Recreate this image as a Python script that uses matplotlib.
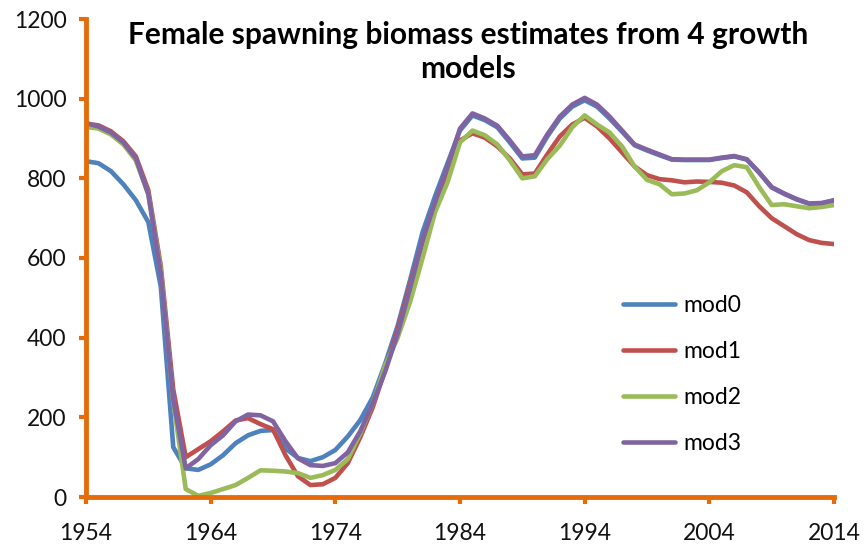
import matplotlib
matplotlib.use("Agg")
import matplotlib.pyplot as plt
import numpy as np

# Años del modelo
years = list(range(1954, 2015))

mod0 = [843, 838, 818, 785, 745, 690, 528, 125, 72, 68,
        82, 105, 135, 155, 166, 168, 122, 98, 90, 100,
        118, 152, 193, 250, 335, 430, 545, 665, 755, 838,
        920, 958, 946, 928, 890, 850, 852, 905, 950, 980,
        996, 980, 950, 917, 883, 870, 858, 847, 846, 846,
        846, 851, 855, 847, 814, 777, 761, 747, 736, 737,
        744]
mod1 = [937, 933, 918, 893, 855, 770, 580, 270, 100, 120,
        140, 165, 192, 198, 183, 170, 105, 52, 30, 32,
        48, 85, 150, 225, 320, 420, 535, 640, 735, 815,
        895, 913, 902, 880, 850, 810, 812, 860, 905, 935,
        952, 930, 900, 865, 830, 808, 798, 795, 790, 792,
        791, 789, 782, 765, 730, 700, 680, 660, 645, 638,
        635]
mod2 = [929, 925, 910, 885, 845, 760, 570, 240, 20, 3,
        10, 20, 30, 48, 67, 66, 64, 60, 48, 55,
        68, 95, 160, 235, 330, 400, 490, 600, 715, 790,
        890, 920, 908, 885, 845, 800, 805, 848, 882, 928,
        958, 935, 915, 880, 830, 796, 785, 760, 762, 770,
        790, 818, 833, 828, 778, 733, 735, 730, 725, 728,
        733]
mod3 = [939, 930, 915, 890, 850, 760, 560, 245, 72, 95,
        130, 155, 190, 207, 205, 190, 140, 97, 80, 78,
        85, 112, 165, 235, 315, 410, 525, 645, 740, 830,
        925, 963, 950, 932, 895, 855, 858, 910, 955, 985,
        1002, 985, 955, 920, 885, 872, 860, 848, 847, 847,
        847, 852, 856, 848, 815, 778, 762, 748, 737, 738,
        745]

series = [("mod0", mod0, "#4F81BD"),
          ("mod1", mod1, "#C0504D"),
          ("mod2", mod2, "#9BBB59"),
          ("mod3", mod3, "#8064A2")]

axis_color = "#E46C0A"
plt.rcParams["font.family"] = ["Lato", "DejaVu Sans"]

fig = plt.figure(figsize=(8.64, 5.5), dpi=100)
ax = fig.add_axes([86 / 864, 1 - 497 / 550, (834 - 86) / 864, (497 - 19) / 550])

for name, vals, col in series:
    ax.plot(years, vals, color=col, lw=3.3, label=name,
            solid_capstyle="round", solid_joinstyle="round")

ax.set_xlim(1954, 2014)
ax.set_ylim(0, 1200)
ax.set_xticks(np.arange(1954, 2015, 10))
ax.set_yticks(np.arange(0, 1201, 200))

for s in ["top", "right"]:
    ax.spines[s].set_visible(False)
for s in ["left", "bottom"]:
    ax.spines[s].set_color(axis_color)
    ax.spines[s].set_linewidth(3.5)
ax.tick_params(axis="both", direction="out", length=5, width=3,
               color=axis_color, labelsize=16.5, labelcolor="#111111", pad=9)
ax.tick_params(axis="x", pad=14)

leg = ax.legend(loc="upper left", bbox_to_anchor=(0.69, 0.465), frameon=False,
                fontsize=16.5, handlelength=2.3, handletextpad=0.35,
                labelspacing=1.08)

fig.text(468 / 864, 1 - 52 / 550,
         "Female spawning biomass estimates from 4 growth\nmodels",
         ha="center", va="center", fontsize=21.5, fontweight="bold",
         linespacing=1.25)

fig.savefig("out.png", dpi=100)
